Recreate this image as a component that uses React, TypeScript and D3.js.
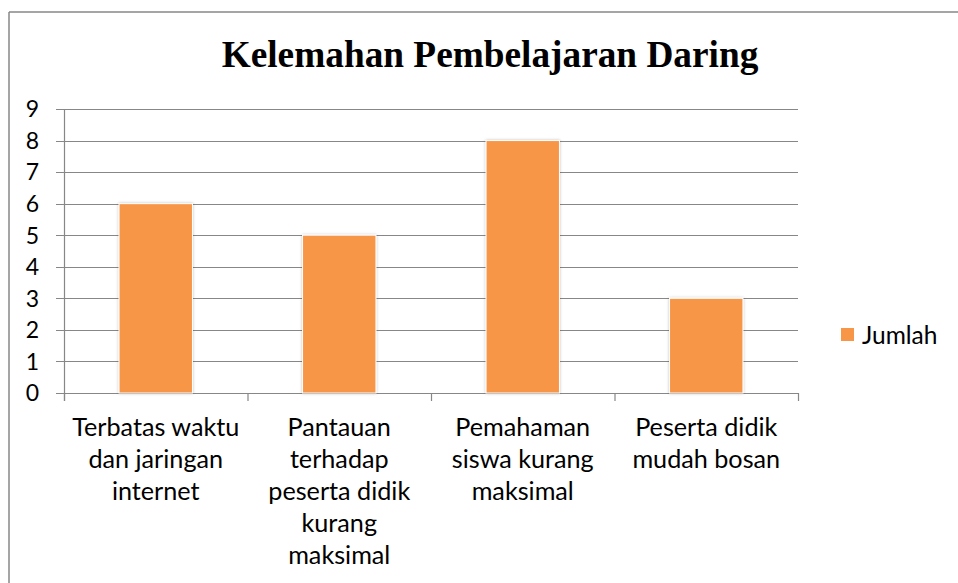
import React from "react";
import * as d3 from "d3";

const categories: string[][] = [
  ["Terbatas waktu", "dan jaringan", "internet"],
  ["Pantauan", "terhadap", "peserta didik", "kurang", "maksimal"],
  ["Pemahaman", "siswa kurang", "maksimal"],
  ["Peserta didik", "mudah bosan"],
];
const values: number[] = [6, 5, 8, 3];
const yTicks: number[] = [0, 1, 2, 3, 4, 5, 6, 7, 8, 9];
const seriesName = "Jumlah";
const title = "Kelemahan Pembelajaran Daring";

const W = 958;
const H = 583;
const plot = { left: 64, right: 798, top: 109, bottom: 393 };
const gridColor = "#878787";
const barColor = "#F79646";
const sans = "Lato, 'Open Sans', sans-serif";

export default function App() {
  const x = d3
    .scaleBand<number>()
    .domain(values.map((_, i) => i))
    .range([plot.left, plot.right])
    .paddingInner(0.6)
    .paddingOuter(0.3);
  const y = d3.scaleLinear().domain([0, 9]).range([plot.bottom, plot.top]);
  const catW = (plot.right - plot.left) / values.length;
  const boundaries = d3.range(values.length + 1).map((i) => plot.left + i * catW);

  return (
    <svg
      width={W}
      height={H}
      style={{ position: "absolute", left: 0, top: 0, background: "#fff" }}
    >
      <defs>
        <filter id="sh" x="-20%" y="-10%" width="140%" height="120%">
          <feDropShadow dx="0" dy="0" stdDeviation="1.5" floodColor="#000" floodOpacity="0.25" />
        </filter>
      </defs>
      {/* chart border (top & left visible) */}
      <line x1={9} y1={12} x2={W} y2={12} stroke={gridColor} strokeWidth={1.5} />
      <line x1={9} y1={12} x2={9} y2={H} stroke={gridColor} strokeWidth={1.5} />

      <text
        x={490}
        y={67}
        textAnchor="middle"
        fontFamily="'Liberation Serif', 'Times New Roman', serif"
        fontWeight="bold"
        fontSize={37.3}
        fill="#000"
      >
        {title}
      </text>

      {/* gridlines + y ticks */}
      {yTicks.map((t) => (
        <g key={t}>
          <line
            x1={plot.left - 8}
            x2={plot.right}
            y1={Math.round(y(t)) + 0.5}
            y2={Math.round(y(t)) + 0.5}
            stroke={gridColor}
            strokeWidth={1.2}
          />
          <text
            x={39}
            y={y(t)}
            dy="0.36em"
            textAnchor="end"
            fontFamily={sans}
            fontSize={23}
            fill="#000"
          >
            {t}
          </text>
        </g>
      ))}
      {/* y axis */}
      <line x1={plot.left + 0.5} x2={plot.left + 0.5} y1={plot.top} y2={plot.bottom + 8} stroke={gridColor} strokeWidth={1.2} />
      {/* x category ticks */}
      {boundaries.map((bx, i) => (
        <line key={i} x1={bx + 0.5} x2={bx + 0.5} y1={plot.bottom} y2={plot.bottom + 8} stroke={gridColor} strokeWidth={1.2} />
      ))}

      {/* bars */}
      {values.map((v, i) => (
        <rect
          key={i}
          x={x(i)!}
          y={y(v)}
          width={x.bandwidth()}
          height={y(0) - y(v)}
          fill={barColor}
          stroke="#fff"
          strokeWidth={1}
          filter="url(#sh)"
        />
      ))}

      {/* x labels */}
      {categories.map((lines, i) => (
        <text
          key={i}
          textAnchor="middle"
          fontFamily={sans}
          fontSize={25.2}
          fill="#000"
        >
          {lines.map((ln, j) => (
            <tspan key={j} x={x(i)! + x.bandwidth() / 2} y={436 + j * 32}>
              {ln}
            </tspan>
          ))}
        </text>
      ))}

      {/* legend */}
      <rect x={841} y={328} width={13} height={13} fill={barColor} />
      <text x={862} y={335} dy="0.36em" fontFamily={sans} fontSize={24.5} fill="#000">
        {seriesName}
      </text>
    </svg>
  );
}
